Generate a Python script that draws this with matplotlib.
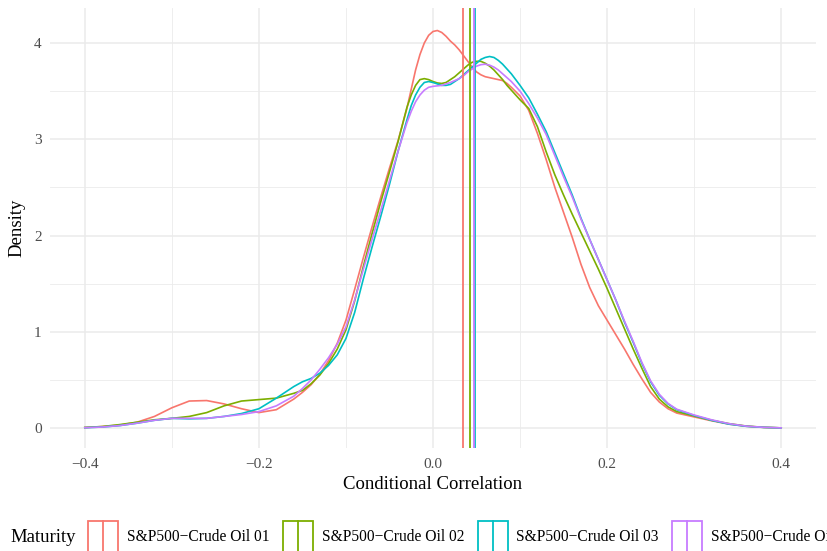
import matplotlib.pyplot as plt
from matplotlib.patches import Rectangle
from matplotlib.lines import Line2D

plt.rcParams['font.family'] = ['Liberation Serif', 'DejaVu Serif']

# conditional correlation grid the densities were read at
corr = [-0.40, -0.38, -0.36, -0.34, -0.32, -0.30, -0.28, -0.26, -0.24, -0.22, -0.20, -0.18, -0.16,
        -0.15, -0.14, -0.13, -0.12, -0.11, -0.10, -0.09, -0.08, -0.07, -0.06, -0.05, -0.04, -0.03,
        -0.025, -0.02, -0.015, -0.01, -0.005, 0.00, 0.005, 0.01, 0.015, 0.02, 0.025, 0.03,
        0.035, 0.04, 0.045, 0.05, 0.055, 0.06, 0.065, 0.07, 0.075, 0.08, 0.085, 0.09,
        0.10, 0.11, 0.12, 0.13, 0.14, 0.15, 0.16, 0.17, 0.18, 0.19, 0.20, 0.21, 0.22, 0.23, 0.24,
        0.25, 0.26, 0.27, 0.28, 0.30, 0.32, 0.34, 0.36, 0.38, 0.40]

oil_01 = [0.005, 0.015, 0.03, 0.06, 0.12, 0.21, 0.28, 0.285, 0.25, 0.20, 0.16, 0.19, 0.30,
          0.37, 0.45, 0.56, 0.70, 0.88, 1.12, 1.44, 1.77, 2.09, 2.40, 2.70, 2.99, 3.32,
          3.52, 3.72, 3.88, 4.00, 4.08, 4.12, 4.13, 4.11, 4.07, 4.02, 3.98, 3.93,
          3.87, 3.81, 3.75, 3.70, 3.67, 3.65, 3.64, 3.63, 3.62, 3.61, 3.58, 3.54,
          3.45, 3.30, 3.06, 2.79, 2.50, 2.24, 1.98, 1.70, 1.46, 1.27, 1.12, 0.97, 0.82, 0.66, 0.51,
          0.37, 0.27, 0.20, 0.155, 0.115, 0.075, 0.04, 0.018, 0.006, 0.001]

oil_02 = [0.005, 0.015, 0.035, 0.06, 0.085, 0.10, 0.12, 0.16, 0.23, 0.28, 0.295, 0.31, 0.36,
          0.39, 0.46, 0.55, 0.67, 0.82, 1.02, 1.32, 1.68, 2.02, 2.35, 2.66, 2.98, 3.33,
          3.46, 3.56, 3.62, 3.63, 3.62, 3.60, 3.585, 3.58, 3.59, 3.62, 3.65, 3.69,
          3.73, 3.77, 3.80, 3.81, 3.81, 3.79, 3.76, 3.72, 3.67, 3.62, 3.56, 3.51,
          3.41, 3.32, 3.13, 2.87, 2.63, 2.42, 2.22, 2.03, 1.84, 1.65, 1.45, 1.24, 1.03, 0.82, 0.62,
          0.43, 0.30, 0.22, 0.17, 0.125, 0.08, 0.045, 0.02, 0.007, 0.001]

oil_03 = [0.003, 0.01, 0.025, 0.05, 0.08, 0.10, 0.095, 0.10, 0.12, 0.15, 0.20, 0.31, 0.43,
          0.48, 0.515, 0.57, 0.65, 0.76, 0.93, 1.20, 1.55, 1.88, 2.20, 2.53, 2.88, 3.20,
          3.35, 3.46, 3.54, 3.59, 3.60, 3.59, 3.575, 3.56, 3.56, 3.57, 3.60, 3.63,
          3.67, 3.71, 3.75, 3.79, 3.83, 3.85, 3.86, 3.85, 3.82, 3.78, 3.73, 3.68,
          3.56, 3.43, 3.26, 3.08, 2.86, 2.64, 2.42, 2.18, 1.96, 1.75, 1.54, 1.33, 1.10, 0.89, 0.67,
          0.48, 0.34, 0.25, 0.19, 0.13, 0.08, 0.04, 0.017, 0.006, 0.001]

oil_04 = [0.003, 0.01, 0.025, 0.05, 0.08, 0.10, 0.10, 0.10, 0.12, 0.14, 0.17, 0.23, 0.33,
          0.41, 0.50, 0.61, 0.73, 0.87, 1.05, 1.33, 1.65, 1.96, 2.26, 2.57, 2.88, 3.17,
          3.29, 3.39, 3.46, 3.51, 3.54, 3.55, 3.555, 3.56, 3.575, 3.59, 3.61, 3.63,
          3.66, 3.70, 3.73, 3.76, 3.775, 3.78, 3.77, 3.75, 3.72, 3.68, 3.64, 3.60,
          3.50, 3.37, 3.22, 3.05, 2.83, 2.61, 2.40, 2.17, 1.96, 1.75, 1.54, 1.33, 1.11, 0.90, 0.68,
          0.49, 0.35, 0.255, 0.195, 0.135, 0.085, 0.045, 0.019, 0.007, 0.001]

means = [0.034, 0.0427, 0.0484, 0.0467]
names = ['S&P500\u2212Crude Oil 01', 'S&P500\u2212Crude Oil 02',
         'S&P500\u2212Crude Oil 03', 'S&P500\u2212Crude Oil 04']
colors = ['#F8766D', '#7CAE00', '#00BFC4', '#C77CFF']

W, H = 828, 551
fig = plt.figure(figsize=(W / 100, H / 100), dpi=100)
ax = fig.add_axes([50 / W, 1 - 448 / H, 766 / W, 440 / H])

for dens, col in zip([oil_01, oil_02, oil_03, oil_04], colors):
    ax.plot(corr, dens, color=col, lw=1.2)
for m, col in zip(means, colors):
    ax.axvline(m, color=col, lw=1.3)

ax.set_xlim(-0.44, 0.44)
ax.set_ylim(-0.208, 4.364)
ax.set_xticks([-0.4, -0.2, 0.0, 0.2, 0.4])
ax.set_xticks([-0.3, -0.1, 0.1, 0.3], minor=True)
ax.set_yticks([0, 1, 2, 3, 4])
ax.set_yticks([0.5, 1.5, 2.5, 3.5], minor=True)
ax.set_xticklabels(['\u22120.4', '\u22120.2', '0.0', '0.2', '0.4'])
ax.grid(which='major', color='#EBEBEB', lw=1.1)
ax.grid(which='minor', color='#EBEBEB', lw=0.6)
ax.set_axisbelow(True)
for s in ax.spines.values():
    s.set_visible(False)
ax.tick_params(which='both', length=0, labelsize=11, labelcolor='#4D4D4D')
ax.tick_params(axis='x', pad=7)
ax.tick_params(axis='y', pad=6)
ax.set_xlabel('Conditional Correlation', fontsize=13.5, labelpad=4)
ax.set_ylabel('Density', fontsize=13.5, labelpad=6)

# legend along the bottom, running off the right edge like the original
fig.text(10 / W, 1 - 537 / H, 'Maturity', fontsize=13.5, ha='left', va='center')
key_x = [88, 283, 478, 672]
label_x = [127, 322, 516, 711]
for kx, lx, col, name in zip(key_x, label_x, colors, names):
    fig.add_artist(Rectangle((kx / W, 1 - 553 / H), 30 / W, 32 / H, transform=fig.transFigure,
                             fill=False, edgecolor=col, lw=1.3))
    fig.add_artist(Line2D([(kx + 15) / W] * 2, [1 - 553 / H, 1 - 521 / H],
                          transform=fig.transFigure, color=col, lw=1.3))
    fig.text(lx / W, 1 - 537 / H, name, fontsize=11.2, ha='left', va='center')

fig.savefig('out.png', dpi=100)
